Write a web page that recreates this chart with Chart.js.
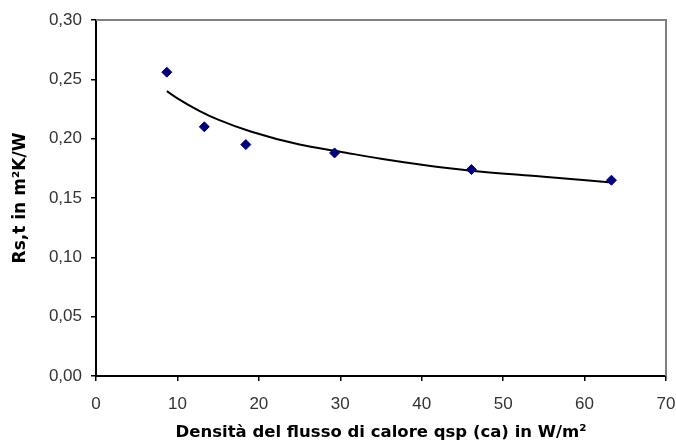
<!DOCTYPE html>
<html><head><meta charset="utf-8">
<script src="https://cdn.jsdelivr.net/npm/chart.js@4.4.0/dist/chart.umd.min.js"></script>
<style>html,body{margin:0;padding:0;background:#fff}</style>
</head><body>
<canvas id="c" width="676" height="447"></canvas>
<script>
const pointX = [8.7, 13.3, 18.4, 29.3, 46.1, 63.3];
const pointY = [0.256, 0.210, 0.195, 0.188, 0.174, 0.165];
const trendX = [8.7, 10, 12.8, 15, 19, 25, 30, 35, 40, 46, 55, 63.3];
const trendY = [0.240, 0.234, 0.223, 0.216, 0.206, 0.195, 0.189, 0.183, 0.178, 0.173, 0.168, 0.163];
const xTicks = [0, 10, 20, 30, 40, 50, 60, 70];
const yTicks = [0.00, 0.05, 0.10, 0.15, 0.20, 0.25, 0.30];
const xTitle = 'Densità del flusso di calore qsp (ca) in W/m²';
const yTitle = 'Rs,t in m²K/W';

const pts = pointX.map((x, i) => ({x, y: pointY[i]}));
const trend = trendX.map((x, i) => ({x, y: trendY[i]}));

const frame = {
  id: 'frame',
  beforeDatasetsDraw(chart) {
    const {ctx, chartArea: a} = chart;
    ctx.save();
    ctx.strokeStyle = '#808080';
    ctx.lineWidth = 2;
    ctx.beginPath();
    ctx.moveTo(a.left, a.top);
    ctx.lineTo(a.right, a.top);
    ctx.lineTo(a.right, a.bottom);
    ctx.stroke();
    ctx.restore();
  }
};

new Chart(document.getElementById('c'), {
  type: 'scatter',
  data: {
    datasets: [
      {
        label: 'trend', data: trend, showLine: true, order: 2,
        borderColor: '#000', borderWidth: 2, tension: 0.3, cubicInterpolationMode: 'monotone',
        pointRadius: 0, fill: false
      },
      {
        label: 'Rs,t', data: pts, order: 1,
        pointStyle: 'rectRot', pointRadius: 5,
        backgroundColor: '#000080', borderColor: '#000080', borderWidth: 1
      }
    ]
  },
  options: {
    responsive: false,
    animation: false,
    layout: {padding: {top: 20, right: 2, left: 0, bottom: 0}},
    plugins: {legend: {display: false}, tooltip: {enabled: false}},
    scales: {
      x: {
        type: 'linear', min: 0, max: 70,
        afterBuildTicks: s => { s.ticks = xTicks.map(v => ({value: v})); },
        afterFit: s => { s.height = 71; s.paddingRight = 10; s.paddingLeft = 0; },
        border: {color: '#000', width: 2},
        grid: {drawOnChartArea: false, drawTicks: true, tickLength: 5, color: '#000', lineWidth: 1.5},
        ticks: {color: '#333', font: {family: 'Liberation Sans', size: 17}, padding: 13, maxRotation: 0,
          callback: v => String(v)},
        title: {display: true, text: xTitle, color: '#000',
          font: {family: 'DejaVu Sans', size: 16.5, weight: 'bold'}, padding: {top: 0, bottom: 4}}
      },
      y: {
        type: 'linear', min: 0, max: 0.3,
        afterBuildTicks: s => { s.ticks = yTicks.map(v => ({value: v})); },
        afterFit: s => { s.width = 96; },
        border: {color: '#000', width: 2},
        grid: {drawOnChartArea: false, drawTicks: true, tickLength: 5, color: '#000', lineWidth: 1.5},
        ticks: {color: '#333', font: {family: 'Liberation Sans', size: 17}, padding: 9,
          callback: v => v.toFixed(2).replace('.', ',')},
        title: {display: true, text: yTitle, color: '#000',
          font: {family: 'DejaVu Sans', size: 17, weight: 'bold'}, padding: {top: 10, bottom: 0}}
      }
    }
  },
  plugins: [frame]
});
</script>
</body></html>
